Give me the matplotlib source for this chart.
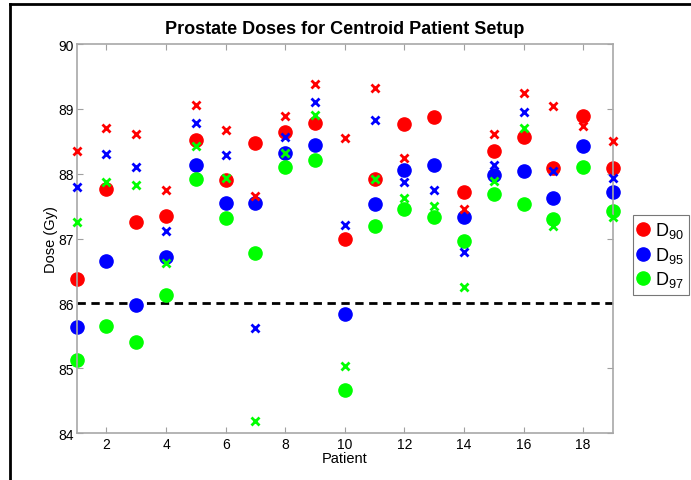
import numpy as np
import matplotlib
matplotlib.use('Agg')
import matplotlib.pyplot as plt
from matplotlib.lines import Line2D

matplotlib.rcParams['font.family'] = ['Liberation Sans', 'DejaVu Sans']
matplotlib.rcParams['mathtext.fontset'] = 'custom'
matplotlib.rcParams['mathtext.rm'] = 'Liberation Sans'

patients = np.arange(1, 20)

# circles: centroid patient setup doses
d90 = [86.37, 87.76, 87.25, 87.35, 88.52, 87.91, 88.48, 88.65, 88.78, 86.99,
       87.92, 88.77, 88.88, 87.72, 88.35, 88.56, 88.09, 88.89, 88.09]
d95 = [85.64, 86.66, 85.97, 86.71, 88.14, 87.55, 87.55, 88.32, 88.44, 85.84,
       87.53, 88.06, 88.14, 87.33, 87.98, 88.04, 87.62, 88.42, 87.72]
d97 = [85.13, 85.65, 85.41, 86.13, 87.92, 87.31, 86.77, 88.10, 88.21, 84.67,
       87.20, 87.46, 87.33, 86.96, 87.69, 87.54, 87.30, 88.10, 87.43]

# crosses (some patients have no cross for a given level)
d90_x = [88.35, 88.70, 88.61, 87.75, 89.06, 88.68, 87.65, 88.89, 89.38, 88.55,
         89.32, 88.24, np.nan, 87.45, 88.61, 89.25, 89.05, 88.74, 88.50]
d95_x = [87.79, 88.30, 88.11, 87.11, 88.78, 88.29, 85.62, 88.56, 89.10, 87.21,
         88.83, 87.87, 87.75, 86.79, 88.14, 88.95, 88.04, np.nan, 87.94]
d97_x = [87.25, 87.87, 87.82, 86.62, 88.43, 87.94, 84.19, 88.32, 88.90, 85.03,
         87.92, 87.62, 87.50, 86.25, 87.88, 88.71, 87.19, np.nan, 87.33]

threshold = 86.0

red = '#ff0000'
blue = '#0000ff'
green = '#00ff00'

fig = plt.figure(figsize=(6.91, 4.81), dpi=100)
ax = fig.add_axes([0.111, 0.0977, 0.776, 0.8087])

ax.plot([1, 19], [threshold, threshold], '--', color='black', lw=2, dashes=(3, 2))

for xs, c in [(d90_x, red), (d95_x, blue), (d97_x, green)]:
    ax.plot(patients, xs, 'x', color=c, ms=6, mew=2, clip_on=False, zorder=3)

for ys, c, lab in [(d90, red, r'$\mathregular{D_{90}}$'),
                   (d95, blue, r'$\mathregular{D_{95}}$'),
                   (d97, green, r'$\mathregular{D_{97}}$')]:
    ax.plot(patients, ys, 'o', color=c, mec=c, ms=9.5, label=lab, clip_on=False, zorder=2)

ax.set_xlim(1, 19)
ax.set_ylim(84, 90)
ax.set_xticks([2, 4, 6, 8, 10, 12, 14, 16, 18])
ax.set_yticks([84, 85, 86, 87, 88, 89, 90])
ax.tick_params(direction='in', top=True, right=True, length=4, color='#a0a0a0',
               labelsize=10, pad=3)
ax.tick_params(axis='y', pad=2)
for s in ax.spines.values():
    s.set_color('#a8a8a8')
    s.set_linewidth(1.2)

ax.set_xlabel('Patient', fontsize=10.5, labelpad=0)
ax.set_ylabel('Dose (Gy)', fontsize=10.5, labelpad=0)
ax.set_title('Prostate Doses for Centroid Patient Setup', fontsize=13, fontweight='bold', pad=8)

leg = ax.legend(loc='upper left', bbox_to_anchor=(633 / 691, 1 - 216 / 481),
                bbox_transform=fig.transFigure, frameon=True, fancybox=False,
                fontsize=13, handlelength=0.5, handletextpad=0.4, borderpad=0.3,
                labelspacing=0.25, borderaxespad=0, markerscale=1.0)
leg.get_frame().set_edgecolor('#555555')
leg.get_frame().set_linewidth(0.8)

# partial frame around the figure
fig.add_artist(Line2D([10 / 691, 10 / 691], [0, 1 - 5 / 481], color='black', lw=2,
                      transform=fig.transFigure))
fig.add_artist(Line2D([10 / 691, 1], [1 - 5 / 481, 1 - 5 / 481], color='black', lw=2,
                      transform=fig.transFigure))

fig.savefig('out.png', dpi=100)
